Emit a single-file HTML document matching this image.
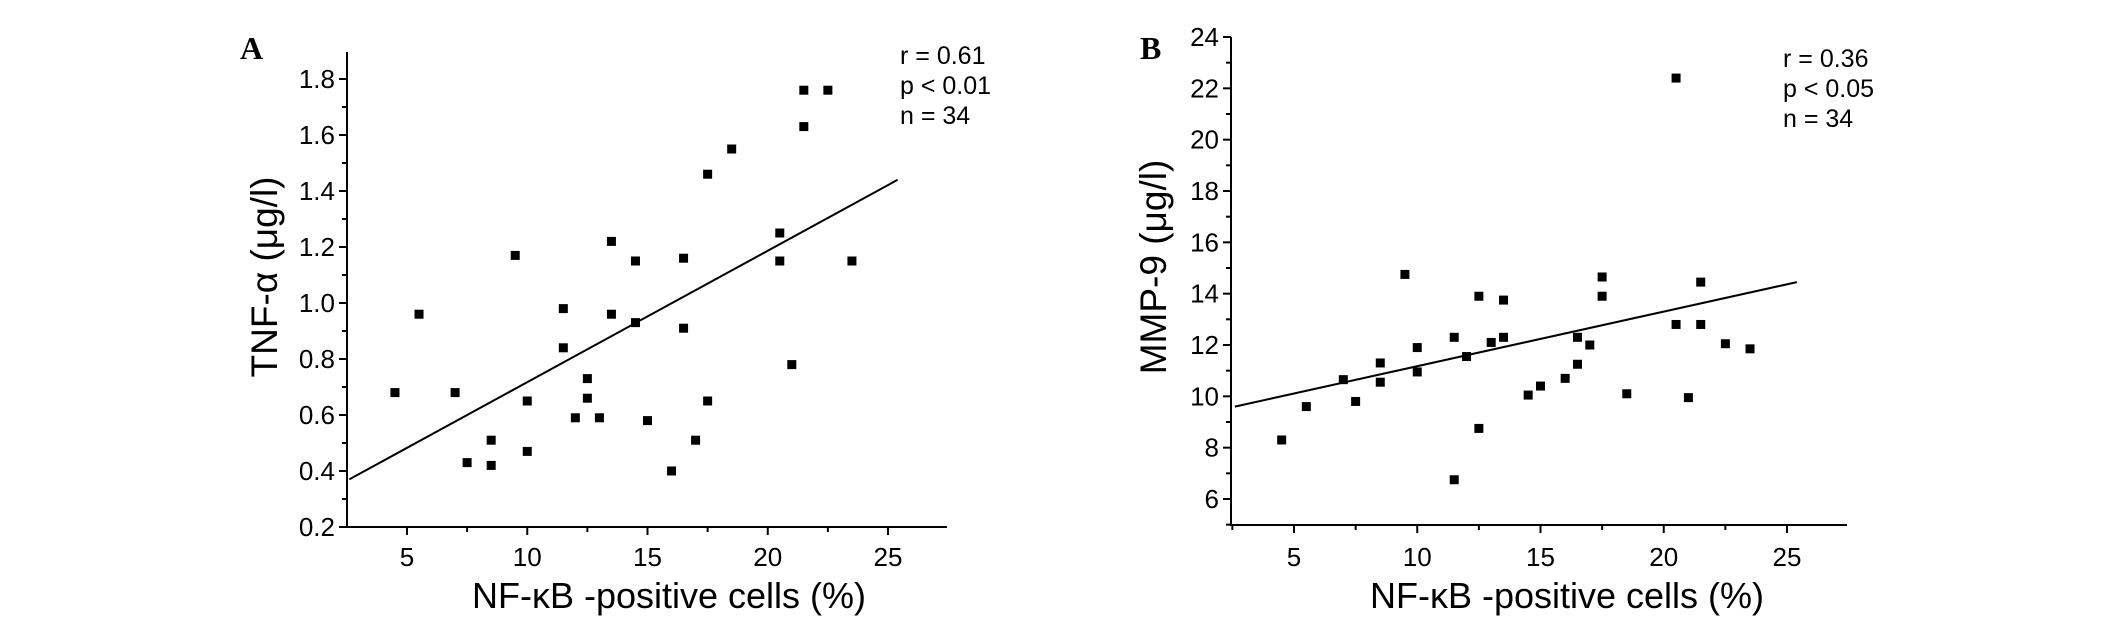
<!DOCTYPE html>
<html><head><meta charset="utf-8"><style>
html,body{margin:0;padding:0;background:#fff;}
svg{display:block;font-family:"Liberation Sans",Arial,sans-serif;}
</style></head><body>
<svg id="fig" width="2126" height="634" viewBox="0 0 2126 634" xmlns="http://www.w3.org/2000/svg"></svg>
<script>
const xA = [4.5,5.5,7,7.5,8.5,8.5,9.5,10,10,11.5,11.5,12,12.5,12.5,13,13.5,13.5,14.5,14.5,15,16,16.5,16.5,17,17.5,17.5,18.5,20.5,20.5,21,21.5,21.5,22.5,23.5];
const yA = [0.68,0.96,0.68,0.43,0.51,0.42,1.17,0.65,0.47,0.98,0.84,0.59,0.73,0.66,0.59,1.22,0.96,1.15,0.93,0.58,0.40,1.16,0.91,0.51,1.46,0.65,1.55,1.25,1.15,0.78,1.76,1.63,1.76,1.15];
const xB = [4.5,5.5,7,7.5,8.5,8.5,9.5,10,10,11.5,11.5,12,12.5,12.5,13,13.5,13.5,14.5,15,16,16.5,16.5,17,17.5,17.5,18.5,20.5,20.5,21,21.5,21.5,22.5,23.5];
const yB = [8.3,9.6,10.65,9.8,11.3,10.55,14.75,11.9,10.95,12.3,6.75,11.55,13.9,8.75,12.1,13.75,12.3,10.05,10.4,10.7,12.3,11.25,12.0,14.65,13.9,10.1,22.4,12.8,9.95,14.45,12.8,12.05,11.85];
const fitA = [[2.6,0.37],[25.4,1.44]];
const fitB = [[2.6,9.6],[25.4,14.45]];
const xTicks = [5,10,15,20,25];
const yTicksA = [0.2,0.4,0.6,0.8,1.0,1.2,1.4,1.6,1.8];
const yTicksB = [6,8,10,12,14,16,18,20,22,24];
const statsA = ["r = 0.61","p < 0.01","n = 34"];
const statsB = ["r = 0.36","p < 0.05","n = 34"];

const NS="http://www.w3.org/2000/svg";
const svg=document.getElementById('fig');
function mk(tag,attrs,parent,text){const e=document.createElementNS(NS,tag);for(const k in attrs)e.setAttribute(k,attrs[k]);if(text!==undefined)e.textContent=text;(parent||svg).appendChild(e);return e;}

function panel(cfg){
  const g=mk('g',{});
  
  
  const sx=v=>cfg.x0px+(v-cfg.x0v)*(cfg.x1px-cfg.x0px)/(cfg.x1v-cfg.x0v);
  const sy=v=>cfg.y0px+(v-cfg.y0v)*(cfg.y1px-cfg.y0px)/(cfg.y1v-cfg.y0v);
  const ax=mk('path',{d:`M${cfg.axX} ${cfg.top} V${cfg.axY} H${cfg.right}`,stroke:'#000','stroke-width':2,fill:'none'},g);
  
  
  for(let v=2.5;v<=27.5;v+=2.5){const px=sx(v);if(px<cfg.axX||px>cfg.right)continue;const major=(v%5===0);
    mk('line',{x1:px,x2:px,y1:cfg.axY,y2:cfg.axY+(major?8:5),stroke:'#000','stroke-width':2},g);}
  xTicks.forEach(v=>{const t=mk('text',{x:sx(v),y:566,'font-size':26,'text-anchor':'middle'},g,String(v));
    
    });
  const yt=cfg.yTicks, step=yt[1]-yt[0];
  for(let i=0;i<yt.length;i++){
    const py=sy(yt[i]);mk('line',{x1:cfg.axX-8,x2:cfg.axX,y1:py,y2:py,stroke:'#000','stroke-width':2},g);
    const mv=yt[i]-step/2;const pm=sy(mv);if(pm<=cfg.axY)mk('line',{x1:cfg.axX-5,x2:cfg.axX,y1:pm,y2:pm,stroke:'#000','stroke-width':2},g);
    const t=mk('text',{x:cfg.axX-12,y:py+9,'font-size':26,'text-anchor':'end'},g,cfg.fmt(yt[i]));
    
    
  }
  const f=cfg.fit;
  const fl=mk('line',{x1:sx(f[0][0]),y1:sy(f[0][1]),x2:sx(f[1][0]),y2:sy(f[1][1]),stroke:'#000','stroke-width':2},g);
  
  
  cfg.xs.forEach((xv,i)=>{const r=mk('rect',{x:sx(xv)-4.5,y:sy(cfg.ys[i])-4.5,width:9,height:9,fill:'#000'},g);
    
    });
  const xt=mk('text',{x:cfg.xTitleX,y:608,'font-size':36,'text-anchor':'middle'},g,'NF-κB -positive cells (%)');
  
  
  const ytt=mk('text',{x:0,y:0,'font-size':37,'text-anchor':'middle',transform:`translate(${cfg.yTitleX},${cfg.yTitleY}) rotate(-90)`},g,cfg.yTitle);
  
  
  cfg.stats.forEach((s,i)=>{const t=mk('text',{x:cfg.statX,y:cfg.statY+i*30,'font-size':25},g,s);
    
    });
  const pl=mk('text',{x:cfg.labX,y:59,'font-size':32,'font-weight':'bold','font-family':'Liberation Serif, serif'},g,cfg.id);
  
  
}

panel({id:'A',xs:xA,ys:yA,fit:fitA,x0v:5,x1v:25,x0px:407,x1px:888,y0v:0.2,y1v:1.8,y0px:527,y1px:79,
  axX:347,axY:527,top:52,right:947,yTicks:yTicksA,fmt:v=>v.toFixed(1),yTitle:'TNF-α (μg/l)',
  xTitleX:669,yTitleX:277,yTitleY:277,stats:statsA,statX:900,statY:64,labX:240});
panel({id:'B',xs:xB,ys:yB,fit:fitB,x0v:5,x1v:25,x0px:1294,x1px:1787,y0v:6,y1v:24,y0px:499,y1px:37,
  axX:1231,axY:525,top:37,right:1847,yTicks:yTicksB,fmt:v=>String(v),yTitle:'MMP-9 (μg/l)',
  xTitleX:1567,yTitleX:1166,yTitleY:267,stats:statsB,statX:1783,statY:67,labX:1140});
</script>
</body></html>
